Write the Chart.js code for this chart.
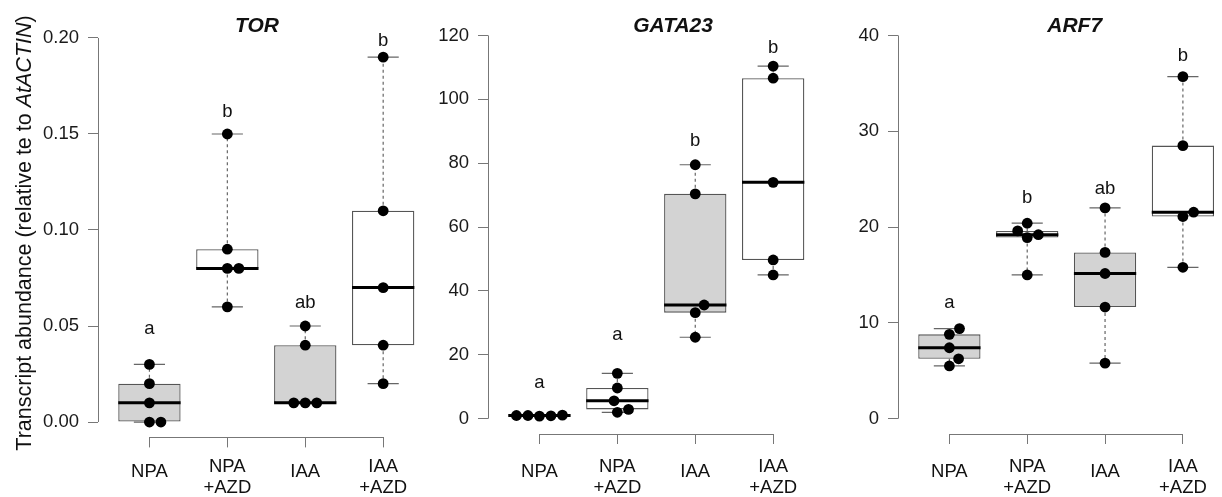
<!DOCTYPE html>
<html>
<head>
<meta charset="utf-8">
<script src="https://cdn.jsdelivr.net/npm/chart.js@4.4.1/dist/chart.umd.min.js"></script>
<style>
  body { margin: 0; background: #fff; }
  #wrap { position: relative; width: 1222px; height: 497px; overflow: hidden; }
  .panel { position: absolute; top: 0; height: 497px; }
</style>
</head>
<body>
<div id="wrap">
  <div class="panel" style="left:0px;width:440px"><canvas id="c1"></canvas></div>
  <div class="panel" style="left:390px;width:440px"><canvas id="c2"></canvas></div>
  <div class="panel" style="left:800px;width:422px"><canvas id="c3"></canvas></div>
</div>
<script>
// groups on the x axis (two-line labels as arrays)
const groups = [['NPA'], ['NPA', '+AZD'], ['IAA'], ['IAA', '+AZD']]

// TOR
const torTicks = [0, 0.05, 0.10, 0.15, 0.20]
const torValues = [
    [0.00, 0.00, 0.01, 0.02, 0.03],
    [0.06, 0.08, 0.08, 0.09, 0.15],
    [0.01, 0.01, 0.01, 0.04, 0.05],
    [0.02, 0.04, 0.07, 0.11, 0.19]
]
const torLetters = ['a', 'b', 'ab', 'b']
const torLetterAt = [0.046, 0.159, 0.0595, 0.196]

// GATA23
const gataTicks = [0, 20, 40, 60, 80, 100, 120]
const gataValues = [
    [0.8, 0.9, 1.0, 1.0, 1.1],
    [2.0, 2.9, 5.6, 9.6, 14.2],
    [25.5, 33.2, 35.6, 70.4, 79.5],
    [45.0, 49.7, 74.0, 106.6, 110.4]
]
const gataLetters = ['a', 'a', 'b', 'b']
const gataLetterAt = [9.5, 24.7, 85.5, 114.6]

// ARF7
const arfTicks = [0, 10, 20, 30, 40]
const arfValues = [
    [5.5, 6.25, 7.4, 8.8, 9.4],
    [15.0, 18.9, 19.2, 19.6, 20.4],
    [5.8, 11.65, 15.15, 17.35, 22.0],
    [15.8, 21.1, 21.55, 28.5, 35.7]
]
const arfLetters = ['a', 'b', 'ab', 'b']
const arfLetterAt = [11.5, 22.5, 23.5, 37.3]

const FONT = '"Liberation Sans", Arial, Helvetica, sans-serif'
const AXIS = '#777'
const BOXLINE = '#555'
const fills = ['#d3d3d3', '#ffffff', '#d3d3d3', '#ffffff']
Chart.defaults.font.family = FONT

const panels = [
    { id: 'c1', title: 'TOR', ticks: torTicks, values: torValues, letters: torLetters, letterAt: torLetterAt,
      ymin: -0.008, ymax: 0.208, fmt: v => v.toFixed(2), top: 22.6, bottom: 437.4, xMax: 4.66, titleX: 2.38, ytitle: true },
    { id: 'c2', title: 'GATA23', ticks: gataTicks, values: gataValues, letters: gataLetters, letterAt: gataLetterAt,
      ymin: -4.8, ymax: 124.8, fmt: v => String(v), top: 19, bottom: 434, xMax: 4.66, titleX: 2.715 },
    { id: 'c3', title: 'ARF7', ticks: arfTicks, values: arfValues, letters: arfLetters, letterAt: arfLetterAt,
      ymin: -1.6, ymax: 41.6, fmt: v => String(v), top: 19, bottom: 434, xMax: 4.433, titleX: 2.61 }
]

// Tukey five-number summary, like R's boxplot
function fivenum(vals) {
    const s = vals.slice().sort((a, b) => a - b)
    const n = s.length
    const n4 = Math.floor((n + 3) / 2) / 2
    const d = [1, n4, (n + 1) / 2, n + 1 - n4, n]
    return d.map(k => 0.5 * (s[Math.floor(k) - 1] + s[Math.ceil(k) - 1]))
}

// beeswarm ("swarm") placement, done in pixels then turned back into x units
function swarm(chart, values) {
    const xs = chart.scales.x, ys = chart.scales.y
    const unit = xs.getPixelForValue(1) - xs.getPixelForValue(0)
    const SX = 11.5, SY = 12
    const out = []
    values.forEach((vals, g) => {
        const placed = []
        vals.slice().sort((a, b) => a - b).forEach(v => {
            const py = ys.getPixelForValue(v)
            const cands = [0]
            placed.forEach(p => {
                const dy = Math.abs(p.y - py)
                if (dy < SY) {
                    const dx = SX * Math.sqrt(1 - (dy / SY) ** 2)
                    cands.push(p.x + dx, p.x - dx)
                }
            })
            const ok = cands.filter(c => placed.every(p =>
                ((c - p.x) / SX) ** 2 + ((py - p.y) / SY) ** 2 >= 0.999))
            ok.sort((a, b) => Math.abs(a) - Math.abs(b) || b - a)
            placed.push({ x: ok[0], y: py })
            out.push({ x: g + 1 + ok[0] / unit, y: v })
        })
    })
    return out
}

function extras(p) {
    return {
        id: 'extras',
        beforeDatasetDraw(chart, args) {
            if (args.index !== 0) return
            const x = chart.scales.x, y = chart.scales.y, ctx = chart.ctx
            const half = (x.getPixelForValue(1) - x.getPixelForValue(0)) * 0.4
            ctx.save()
            p.values.forEach((vals, i) => {
                const f = fivenum(vals)
                const cx = x.getPixelForValue(i + 1)
                ctx.strokeStyle = '#666'
                ctx.lineWidth = 1.2
                ctx.setLineDash([3, 3])
                ctx.beginPath()
                ctx.moveTo(cx, y.getPixelForValue(f[3])); ctx.lineTo(cx, y.getPixelForValue(f[4]))
                ctx.moveTo(cx, y.getPixelForValue(f[1])); ctx.lineTo(cx, y.getPixelForValue(f[0]))
                ctx.stroke()
                ctx.setLineDash([])
                ctx.beginPath()
                ;[f[0], f[4]].forEach(v => {
                    const py = y.getPixelForValue(v)
                    ctx.moveTo(cx - half / 2, py); ctx.lineTo(cx + half / 2, py)
                })
                ctx.stroke()
                ctx.strokeStyle = '#000'
                ctx.lineWidth = 3
                ctx.beginPath()
                ctx.moveTo(cx - half, y.getPixelForValue(f[2])); ctx.lineTo(cx + half, y.getPixelForValue(f[2]))
                ctx.stroke()
            })
            ctx.restore()
        },
        afterDraw(chart) {
            const x = chart.scales.x, y = chart.scales.y, ctx = chart.ctx
            const area = chart.chartArea
            ctx.save()
            // axis lines, R style (only between the end ticks)
            ctx.strokeStyle = AXIS
            ctx.lineWidth = 1
            const lx = Math.round(area.left) + 0.5
            const by = Math.round(area.bottom) + 0.5
            ctx.beginPath()
            ctx.moveTo(lx, y.getPixelForValue(p.ticks[0]))
            ctx.lineTo(lx, y.getPixelForValue(p.ticks[p.ticks.length - 1]))
            ctx.moveTo(x.getPixelForValue(1), by)
            ctx.lineTo(x.getPixelForValue(groups.length), by)
            ctx.stroke()

            ctx.fillStyle = '#111'
            ctx.textAlign = 'center'
            ctx.textBaseline = 'alphabetic'
            // panel title
            ctx.font = 'italic bold 21px ' + FONT
            ctx.fillText(p.title, x.getPixelForValue(p.titleX), 31.7)
            // group letters
            ctx.font = '18.5px ' + FONT
            p.letters.forEach((t, i) => {
                ctx.fillText(t, x.getPixelForValue(i + 1), y.getPixelForValue(p.letterAt[i]))
            })
            // category labels
            groups.forEach((lines, i) => {
                const cx = x.getPixelForValue(i + 1)
                if (lines.length === 1) ctx.fillText(lines[0], cx, 476.5)
                else { ctx.fillText(lines[0], cx, 471.5); ctx.fillText(lines[1], cx, 492.5) }
            })
            // y axis title with italic gene name
            if (p.ytitle) {
                const parts = [['Transcript abundance (relative te to ', ''], ['AtACTIN', 'italic '], [')', '']]
                let total = 0
                parts.forEach(pt => { ctx.font = pt[1] + '21.5px ' + FONT; total += ctx.measureText(pt[0]).width })
                ctx.translate(31, 233)
                ctx.rotate(-Math.PI / 2)
                ctx.textAlign = 'left'
                let pos = -total / 2
                parts.forEach(pt => {
                    ctx.font = pt[1] + '21.5px ' + FONT
                    ctx.fillText(pt[0], pos, 0)
                    pos += ctx.measureText(pt[0]).width
                })
            }
            ctx.restore()
        }
    }
}

const charts = panels.map(p => {
    const boxes = p.values.map((vals, i) => {
        const f = fivenum(vals)
        return { x: i + 1, y: [f[1], f[3]] }
    })
    const pts = []
    p.values.forEach((vals, i) => vals.forEach(v => pts.push({ x: i + 1, y: v })))
    return new Chart(document.getElementById(p.id), {
        type: 'bar',
        data: {
            datasets: [
                { type: 'scatter', data: pts, pointRadius: 5.4, pointHoverRadius: 5.4,
                  backgroundColor: '#000', borderWidth: 0 },
                { type: 'bar', data: boxes, backgroundColor: fills, borderColor: BOXLINE,
                  borderWidth: 1.3, borderSkipped: false, categoryPercentage: 1, barPercentage: 0.8 }
            ]
        },
        options: {
            responsive: true,
            maintainAspectRatio: false,
            animation: false,
            events: [],
            layout: { padding: { top: p.top, left: 0, right: 0, bottom: 0 } },
            plugins: { legend: { display: false }, tooltip: { enabled: false } },
            scales: {
                x: {
                    type: 'linear', min: 0.34, max: p.xMax, offset: false,
                    afterBuildTicks: s => { s.ticks = groups.map((g, i) => ({ value: i + 1 })) },
                    afterFit: s => { s.height = 497 - p.bottom },
                    ticks: { display: false },
                    grid: { offset: false, drawOnChartArea: false, drawTicks: true, tickLength: 10, color: AXIS, lineWidth: 1 },
                    border: { display: false }
                },
                y: {
                    type: 'linear', min: p.ymin, max: p.ymax,
                    afterBuildTicks: s => { s.ticks = p.ticks.map(v => ({ value: v })) },
                    afterFit: s => { s.width = 98 },
                    ticks: { callback: v => p.fmt(v), font: { size: 18.5 }, color: '#1a1a1a', padding: 9 },
                    grid: { drawOnChartArea: false, drawTicks: true, tickLength: 10, color: AXIS, lineWidth: 1 },
                    border: { display: false }
                }
            }
        },
        plugins: [extras(p)]
    })
})

charts.forEach((chart, k) => {
    chart.data.datasets[0].data = swarm(chart, panels[k].values)
    chart.update('none')
})
</script>
</body>
</html>
